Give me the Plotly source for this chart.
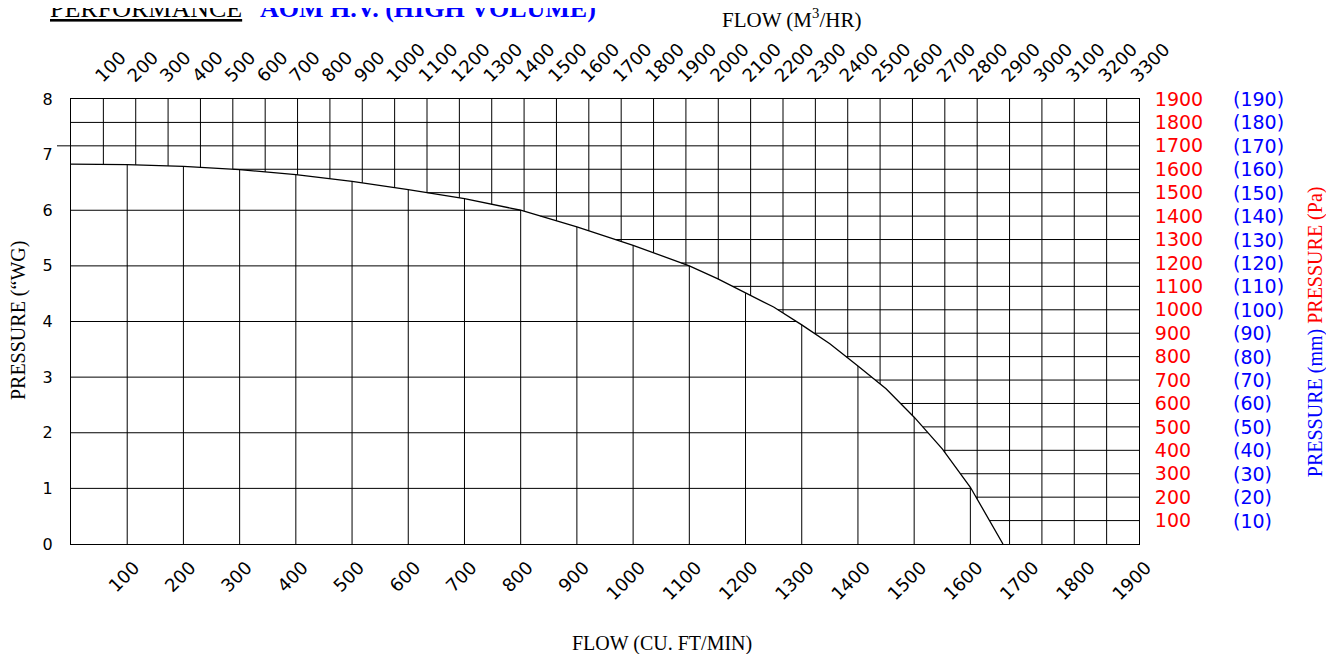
import numpy as np
import plotly.graph_objects as go

# ---- data ----
cfm = [0, 100, 200, 300, 400, 500, 600, 700, 800, 900, 1000, 1100, 1150, 1200,
       1250, 1300, 1350, 1400, 1450, 1500, 1550, 1600, 1658]
inwg = [6.83, 6.82, 6.79, 6.73, 6.64, 6.52, 6.37, 6.21, 6.00, 5.70, 5.37, 5.00, 4.77, 4.51,
        4.26, 3.94, 3.60, 3.20, 2.79, 2.28, 1.71, 1.02, 0.0]

cfm_ticks = list(range(100, 2000, 100))
m3h_ticks = list(range(100, 3400, 100))
wg_ticks = list(range(0, 9))
pa_ticks = list(range(100, 2000, 100))
mm_labels = ["(%d)" % (p // 10) for p in pa_ticks]

CFM_MAX, M3H_MAX, WG_MAX, PA_MAX = 1900, 3300, 8, 1900

TICKFONT = "DejaVu Sans"
SERIF = "Liberation Serif"


def curve_at(c):
    return float(np.interp(c, cfm, inwg))


def flow_at(p):
    return float(np.interp(p, inwg[::-1], cfm[::-1]))


def segs(pairs):
    xs, ys = [], []
    for (x0, x1, y0, y1) in pairs:
        xs += [x0, x1, None]
        ys += [y0, y1, None]
    return xs, ys


# grid below the curve: CFM verticals and "WG horizontals
cfm_v = [(c, c, 0, curve_at(c)) for c in cfm_ticks if c < cfm[-1]]
wg_h = [(0, flow_at(k), k, k) for k in wg_ticks if 0 < k < max(inwg)]
# grid above the curve: Pa horizontals and M3/HR verticals
pa_h = []
for p in pa_ticks:
    if p >= PA_MAX:
        continue
    yin = p / PA_MAX * WG_MAX
    pa_h.append((flow_at(yin), CFM_MAX, p, p))
m3_v = []
for m in m3h_ticks:
    if m >= M3H_MAX:
        continue
    c = m / M3H_MAX * CFM_MAX
    m3_v.append((m, m, curve_at(c), WG_MAX))

line_style = dict(color="black", width=1)
fig = go.Figure()
x, y = segs(cfm_v + wg_h)
fig.add_trace(go.Scatter(x=x, y=y, mode="lines", line=line_style, xaxis="x", yaxis="y",
                         hoverinfo="skip", showlegend=False))
x, y = segs(pa_h)
fig.add_trace(go.Scatter(x=x, y=y, mode="lines", line=line_style, xaxis="x", yaxis="y2",
                         hoverinfo="skip", showlegend=False))
x, y = segs(m3_v)
fig.add_trace(go.Scatter(x=x, y=y, mode="lines", line=line_style, xaxis="x2", yaxis="y",
                         hoverinfo="skip", showlegend=False))
fig.add_trace(go.Scatter(x=cfm, y=inwg, mode="lines", line=dict(color="black", width=1.3),
                         xaxis="x", yaxis="y", showlegend=False, name="AOM H.V."))

axis_common = dict(showgrid=False, zeroline=False, showline=True, linecolor="black",
                   linewidth=1, ticks="", autorange=False)

fig.update_layout(
    width=1334, height=654,
    margin=dict(l=63, r=203, t=91, b=118),
    paper_bgcolor="white", plot_bgcolor="white",
    showlegend=False,
    xaxis=dict(range=[0, CFM_MAX], tickmode="array", tickvals=cfm_ticks,
               ticktext=[str(v) for v in cfm_ticks], tickangle=-45,
               tickfont=dict(family=TICKFONT, size=18, color="black"),
               ticklabelstandoff=5, ticklabelshift=7, **axis_common),
    xaxis2=dict(range=[0, M3H_MAX], overlaying="x", side="top", anchor="y",
                tickmode="array", tickvals=m3h_ticks, ticktext=[str(v) for v in m3h_ticks],
                tickangle=-45, tickfont=dict(family=TICKFONT, size=18, color="black"),
                ticklabelstandoff=5, ticklabelshift=-7, **axis_common),
    yaxis=dict(range=[0, WG_MAX], tickmode="array", tickvals=wg_ticks,
               ticktext=[str(v) for v in wg_ticks],
               tickfont=dict(family=TICKFONT, size=16, color="black"),
               ticklabelstandoff=14, **axis_common),
    yaxis2=dict(range=[0, PA_MAX], overlaying="y", side="right", anchor="x",
                tickmode="array", tickvals=pa_ticks, ticktext=[str(v) for v in pa_ticks],
                tickfont=dict(family=TICKFONT, size=19, color="red"),
                ticklabelstandoff=11, **axis_common),
)

ann = []
for p, lab in zip(pa_ticks, mm_labels):
    ann.append(dict(xref="paper", yref="y2", x=1.0861, y=p, text=lab, showarrow=False,
                    xanchor="left", yanchor="middle",
                    font=dict(family=TICKFONT, size=19, color="blue")))
ann += [
    dict(xref="paper", yref="paper", x=-0.0215, y=1.203, text="<u>PERFORMANCE</u>",
         showarrow=False, xanchor="left", yanchor="middle",
         font=dict(family=SERIF, size=26, color="black")),
    dict(xref="paper", yref="paper", x=0.175, y=1.203, text="<b>AOM H.V. (HIGH VOLUME)</b>",
         showarrow=False, xanchor="left", yanchor="middle",
         font=dict(family=SERIF, size=26, color="blue")),
    dict(xref="paper", yref="paper", x=0.675, y=1.182, text="FLOW (M<sup>3</sup>/HR)",
         showarrow=False, xanchor="center", yanchor="middle",
         font=dict(family=SERIF, size=21, color="black")),
    dict(xref="paper", yref="paper", x=0.5534, y=-0.2225, text="FLOW (CU. FT/MIN)",
         showarrow=False, xanchor="center", yanchor="middle",
         font=dict(family=SERIF, size=20, color="black")),
    dict(xref="paper", yref="paper", x=-0.0496, y=0.501, text="PRESSURE (\u201cWG)",
         showarrow=False, xanchor="center", yanchor="middle", textangle=-90,
         font=dict(family=SERIF, size=20, color="black")),
    dict(xref="paper", yref="paper", x=1.1648, y=0.476,
         text="<span style='color:blue'>PRESSURE (mm)</span> <span style='color:red'>PRESSURE (Pa)</span>",
         showarrow=False, xanchor="center", yanchor="middle", textangle=-90,
         font=dict(family=SERIF, size=20, color="black")),
]
fig.update_layout(annotations=ann)

fig.add_shape(type="line", xref="paper", yref="y2", x0=-0.0131, x1=0, y0=1700, y1=1700,
              line=dict(color="black", width=1))

fig.write_html("out.html")
